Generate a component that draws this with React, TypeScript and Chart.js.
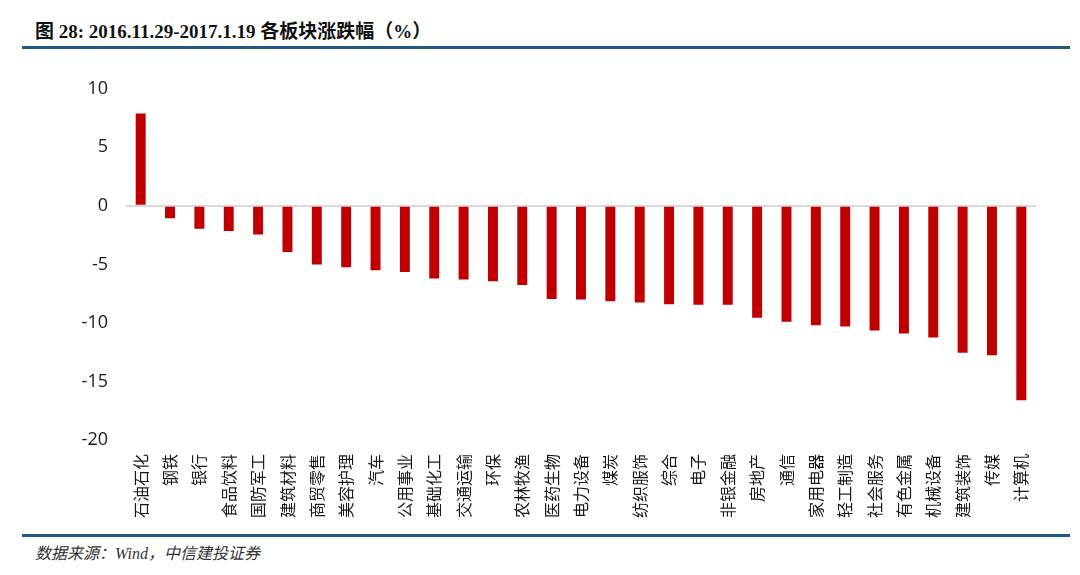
import React, { useEffect, useRef } from "react";
import { Chart, registerables } from "chart.js";

Chart.register(...registerables);

const categories = [
  "石油石化", "钢铁", "银行", "食品饮料", "国防军工", "建筑材料", "商贸零售", "美容护理",
  "汽车", "公用事业", "基础化工", "交通运输", "环保", "农林牧渔", "医药生物", "电力设备",
  "煤炭", "纺织服饰", "综合", "电子", "非银金融", "房地产", "通信", "家用电器",
  "轻工制造", "社会服务", "有色金属", "机械设备", "建筑装饰", "传媒", "计算机",
];

const changes = [
  7.9, -1.05, -1.95, -2.15, -2.45, -3.95, -5.0, -5.25,
  -5.5, -5.65, -6.2, -6.3, -6.45, -6.75, -7.95, -8.0,
  -8.15, -8.25, -8.4, -8.45, -8.45, -9.55, -9.9, -10.2,
  -10.3, -10.65, -10.9, -11.25, -12.55, -12.75, -16.6,
];

const yTicks = [10, 5, 0, -5, -10, -15, -20];

const title = "图 28: 2016.11.29-2017.1.19 各板块涨跌幅（%）";
const source = "数据来源：Wind，中信建投证券";

export default function App() {
  const canvasRef = useRef<HTMLCanvasElement | null>(null);

  useEffect(() => {
    document.body.style.margin = "0";
    const ctx = canvasRef.current;
    if (!ctx) return;
    const chart = new Chart(ctx, {
      type: "bar",
      data: {
        labels: categories,
        datasets: [
          {
            data: changes,
            backgroundColor: "#c00000",
            borderWidth: 0,
            barPercentage: 0.68,
            categoryPercentage: 0.5,
          },
        ],
      },
      options: {
        animation: false,
        responsive: true,
        maintainAspectRatio: false,
        layout: { padding: { top: 26, right: 44, bottom: 0, left: 0 } },
        plugins: { legend: { display: false }, tooltip: { enabled: false } },
        scales: {
          x: {
            position: "bottom",
            grid: { display: false },
            border: { display: false },
            ticks: {
              autoSkip: false,
              minRotation: 90,
              maxRotation: 90,
              padding: 6,
              color: "#1a1a1a",
              font: { family: "'Noto Sans CJK SC', 'Liberation Sans', sans-serif", size: 16 },
            },
            afterFit: (scale: any) => {
              scale.height = 100;
            },
          },
          y: {
            min: -20,
            max: 10,
            afterBuildTicks: (scale: any) => {
              scale.ticks = yTicks.map((v) => ({ value: v }));
            },
            grid: {
              drawTicks: false,
              color: (c: any) => (c.tick && c.tick.value === 0 ? "#d9d9d9" : "rgba(0,0,0,0)"),
              lineWidth: 2,
            },
            border: { display: false },
            ticks: {
              padding: 18,
              color: "#1a1a1a",
              font: { family: "'Open Sans', 'Liberation Sans', sans-serif", size: 18 },
            },
            afterFit: (scale: any) => {
              scale.width = 126;
            },
          },
        },
      },
    });
    return () => chart.destroy();
  }, []);

  return (
    <div
      style={{
        position: "fixed",
        left: 0,
        top: 0,
        width: 1080,
        height: 575,
        background: "#fff",
        overflow: "hidden",
      }}
    >
      <div
        style={{
          position: "absolute",
          left: 35,
          top: 16,
          fontFamily: "'Liberation Serif', 'Noto Sans CJK SC', serif",
          fontWeight: "bold",
          fontSize: 19,
          color: "#111",
          whiteSpace: "nowrap",
        }}
      >
        {title}
      </div>
      <div
        style={{
          position: "absolute",
          left: 22,
          top: 46,
          width: 1048,
          height: 3,
          background: "#1f5a8a",
        }}
      />
      <div style={{ position: "absolute", left: 0, top: 60, width: 1080, height: 480 }}>
        <canvas ref={canvasRef} />
      </div>
      <div
        style={{
          position: "absolute",
          left: 22,
          top: 534,
          width: 1048,
          height: 3,
          background: "#1f5a8a",
        }}
      />
      <div
        style={{
          position: "absolute",
          left: 35,
          top: 540,
          fontFamily: "'Liberation Serif', 'Noto Sans CJK SC', serif",
          fontStyle: "italic",
          fontSize: 16,
          color: "#333",
          whiteSpace: "nowrap",
        }}
      >
        {source}
      </div>
    </div>
  );
}
